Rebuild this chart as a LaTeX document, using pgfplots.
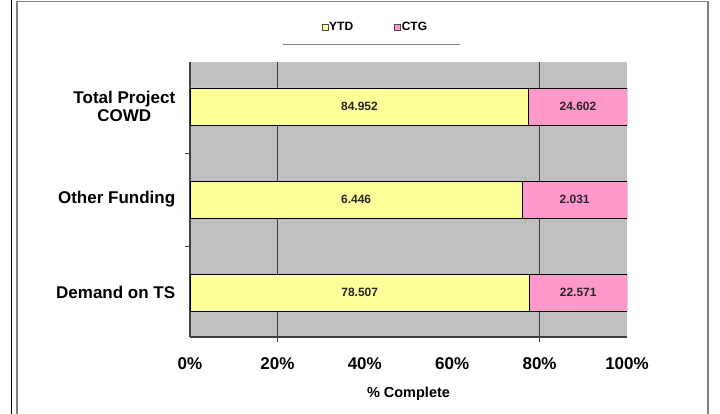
\documentclass[border=0pt]{standalone}
\usepackage{fontspec}
\setmainfont{Liberation Sans}
\usepackage{pgfplots}
\usepackage{pgfplotstable}
\pgfplotsset{compat=1.18}

\definecolor{ytdcol}{RGB}{255,255,153}
\definecolor{ctgcol}{RGB}{255,153,204}
\definecolor{plotbg}{RGB}{192,192,192}
\definecolor{axgray}{RGB}{64,64,64}
\definecolor{framegray}{RGB}{128,128,128}

% idx 0 = bottom row
\pgfplotstableread{
idx ytd    ctg
0   78.507 22.571
1   6.446  2.031
2   84.952 24.602
}\funding

\begin{document}
\begin{tikzpicture}
  \useasboundingbox (0pt,0pt) rectangle (720pt,413pt);
  \fill[white] (0pt,0pt) rectangle (720pt,413pt);
  \draw[black, line width=0.8pt] (11pt,-2pt) -- (11pt,415pt);
  \draw[framegray, line width=1.8pt] (17pt,-5pt) -- (17pt,411.5pt) -- (708pt,411.5pt) -- (708pt,-5pt);

  \begin{axis}[
    at={(190pt,76pt)}, anchor=south west,
    scale only axis, width=437pt, height=275pt,
    xmin=0, xmax=100, ymin=-0.478, ymax=2.478,
    axis background/.style={fill=plotbg},
    axis x line*=bottom, axis y line*=left,
    axis line style={axgray, line width=1.3pt},
    tick align=outside,
    xtick={0,20,40,60,80,100},
    xticklabels={0\%,20\%,40\%,60\%,80\%,100\%},
    major x tick style={draw=none},
    extra x ticks={20,80}, extra x tick labels={},
    extra x tick style={grid=major, major tick length=5pt,
      major x tick style={draw=axgray, line width=0.9pt}},
    major grid style={axgray, line width=0.9pt},
    xticklabel style={font=\bfseries\fontsize{17}{19}\selectfont, yshift=-13pt},
    ytick={0,1,2},
    yticklabels={Demand on TS, Other Funding, {Total Project\\COWD}},
    yticklabel style={font=\bfseries\fontsize{17}{18}\selectfont, align=center, xshift=-7pt},
    major y tick style={draw=none},
    minor ytick={0.5,1.5}, minor tick length=5pt,
    minor y tick style={draw=axgray, line width=0.9pt},
    xlabel={\% Complete},
    every axis x label/.style={at={(axis description cs:0.5,-0.207)}, anchor=center,
      font=\bfseries\fontsize{14.5}{16}\selectfont},
    legend columns=2,
    legend style={at={(axis description cs:0.423,1.127)}, anchor=center,
      draw=none, fill=none, font=\bfseries\fontsize{12}{14}\selectfont,
      nodes={inner sep=1pt},
      /tikz/every even column/.append style={column sep=40pt}},
    legend image code/.code={\draw[#1, line width=0.6pt, draw=black!70] (0pt,-3pt) rectangle (6pt,3pt);},
    bar width=37pt,
    label/.style={only marks, mark=none, forget plot, nodes near coords,
      point meta=explicit symbolic,
      every node near coord/.append style={anchor=center, text=black!85,
        font=\bfseries\fontsize{12}{14}\selectfont}},
  ]
    % CTG drawn as the full 100% bar, YTD on top of it
    \addplot[xbar, bar shift=0pt, fill=ctgcol, draw=black, line width=0.8pt, forget plot]
      table[x expr={100*(\thisrow{ytd}+\thisrow{ctg})/(\thisrow{ytd}+\thisrow{ctg})}, y=idx] {\funding};
    \addplot[xbar, bar shift=0pt, fill=ytdcol, draw=black, line width=0.8pt]
      table[x expr={100*\thisrow{ytd}/(\thisrow{ytd}+\thisrow{ctg})}, y=idx] {\funding};
    \addlegendentry{YTD}
    \addlegendimage{fill=ctgcol}
    \addlegendentry{CTG}
    % value labels in the middle of each segment
    \addplot[label]
      table[x expr={50*\thisrow{ytd}/(\thisrow{ytd}+\thisrow{ctg})}, y=idx, meta=ytd] {\funding};
    \addplot[label]
      table[x expr={100*(\thisrow{ytd}+\thisrow{ctg}/2)/(\thisrow{ytd}+\thisrow{ctg})}, y=idx, meta=ctg] {\funding};
  \end{axis}

  \draw[framegray, line width=1pt] (283pt,368pt) -- (460pt,368pt);
\end{tikzpicture}
\end{document}
